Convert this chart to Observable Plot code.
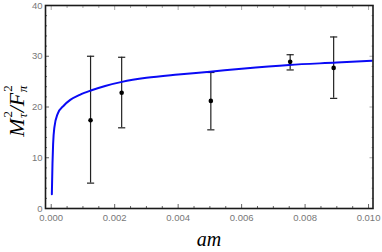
<!DOCTYPE html>
<html>
<head>
<meta charset="utf-8">
<script src="https://cdn.jsdelivr.net/npm/d3@7"></script>
<script src="https://cdn.jsdelivr.net/npm/@observablehq/plot@0.6"></script>
<style>
  html, body { margin: 0; padding: 0; background: #fff; }
</style>
</head>
<body>
<div id="chart"></div>
<script>
// Lattice data points (am, M^2/F^2) with error bars
const pointX  = [0.00124, 0.00222, 0.00503, 0.00753, 0.00890];
const pointY  = [17.4, 22.8, 21.2, 28.9, 27.7];
const pointLo = [5.0, 15.9, 15.5, 27.3, 21.7];
const pointHi = [30.0, 29.8, 26.8, 30.3, 33.8];

// Fit curve
const curveX = [0.00002, 0.00004, 0.00006, 0.0001, 0.0002, 0.0004, 0.0006, 0.0009, 0.00127, 0.0017, 0.00223, 0.003, 0.004, 0.005, 0.006, 0.0075, 0.009, 0.0101];
const curveY = [2.8, 8.8, 12.7, 16.0, 18.6, 20.3, 21.4, 22.4, 23.3, 24.15, 24.95, 25.75, 26.4, 26.95, 27.55, 28.3, 28.75, 29.1];

// Tick values
const xTicks = [0, 0.002, 0.004, 0.006, 0.008, 0.010];
const xTickLabels = ["0.000", "0.002", "0.004", "0.006", "0.008", "0.010"];
const yTicks = [0, 10, 20, 30, 40];
const yTickLabels = ["0", "10", "20", "30", "40"];
const xMinor = d3.range(0, 0.01001, 0.0005).filter((d, i) => i % 4 !== 0);
const yMinor = d3.range(0, 40.01, 2).filter((d, i) => i % 5 !== 0);

const points = pointX.map((x, i) => ({x, y: pointY[i], lo: pointLo[i], hi: pointHi[i]}));
const caps = points.flatMap(p => [{x: p.x, y: p.lo}, {x: p.x, y: p.hi}]);
const curve = curveX.map((x, i) => ({x, y: curveY[i]}));

const capSymbol = {
  draw(ctx, size) {
    const r = Math.sqrt(size / Math.PI);
    ctx.moveTo(-r, 0);
    ctx.lineTo(r, 0);
  }
};

const tickColor = "#666";
const labelColor = "#777";

const chart = Plot.plot({
  width: 382,
  height: 252,
  marginLeft: 45,
  marginRight: 9.5,
  marginTop: 5,
  marginBottom: 44,
  style: {fontFamily: "'Liberation Sans', Arial, sans-serif", fontSize: "9.5px", background: "#fff"},
  x: {domain: [-0.00018, 0.01014]},
  y: {domain: [0, 40]},
  marks: [
    // tick marks pointing inward on all four sides
    Plot.axisX(xTicks, {anchor: "bottom", tickSize: -4, text: null, stroke: tickColor, label: null}),
    Plot.axisX(xMinor, {anchor: "bottom", tickSize: -2, text: null, stroke: tickColor, label: null}),
    Plot.axisX(xTicks, {anchor: "top", tickSize: -4, text: null, stroke: "#aaa", label: null}),
    Plot.axisX(xMinor, {anchor: "top", tickSize: -2, text: null, stroke: "#aaa", label: null}),
    Plot.axisY(yTicks, {anchor: "left", tickSize: -4, text: null, stroke: tickColor, label: null}),
    Plot.axisY(yMinor, {anchor: "left", tickSize: -2, text: null, stroke: tickColor, label: null}),
    Plot.axisY(yTicks, {anchor: "right", tickSize: -4, text: null, stroke: "#aaa", label: null}),
    Plot.axisY(yMinor, {anchor: "right", tickSize: -2, text: null, stroke: "#aaa", label: null}),
    // tick labels
    Plot.axisX(xTicks, {anchor: "bottom", tickSize: 0, tickPadding: 6, fill: labelColor, label: null,
      tickFormat: (d) => xTickLabels[xTicks.indexOf(d)]}),
    Plot.axisY(yTicks, {anchor: "left", tickSize: 0, tickPadding: 3, fill: labelColor, label: null,
      tickFormat: (d) => yTickLabels[yTicks.indexOf(d)]}),
    // error bars
    Plot.ruleX(points, {x: "x", y1: "lo", y2: "hi", stroke: "#222", strokeWidth: 1.2}),
    Plot.dot(caps, {x: "x", y: "y", r: 3.6, symbol: capSymbol, stroke: "#222", strokeWidth: 1.2}),
    // fit curve
    Plot.line(curve, {x: "x", y: "y", stroke: "#0a0af5", strokeWidth: 2, curve: "monotone-x"}),
    // data points
    Plot.dot(points, {x: "x", y: "y", r: 2.3, fill: "#000", stroke: "none"}),
    Plot.frame({stroke: "#1a1a1a", strokeWidth: 1.6})
  ]
});

// axis titles with stacked super/subscripts
const svg = d3.select(chart);
const serif = "'Liberation Serif', 'Times New Roman', serif";
svg.append("text")
  .attr("x", 209).attr("y", 246)
  .attr("text-anchor", "middle")
  .attr("font-family", serif).attr("font-style", "italic").attr("font-size", 20)
  .attr("fill", "#000")
  .text("am");

const yl = svg.append("text")
  .attr("transform", "translate(23.5,111) rotate(-90)")
  .attr("text-anchor", "middle")
  .attr("font-family", serif).attr("font-style", "italic").attr("font-size", 22)
  .attr("fill", "#000");
yl.append("tspan").text("M");
yl.append("tspan").attr("font-size", 13).attr("font-style", "normal").attr("dx", 1).attr("dy", -12).text("2");
yl.append("tspan").attr("font-size", 13).attr("dx", -7).attr("dy", 15.5).text("τ");
yl.append("tspan").attr("dx", 1).attr("dy", -3.5).text("/F");
yl.append("tspan").attr("font-size", 13).attr("font-style", "normal").attr("dx", 1).attr("dy", -12).text("2");
yl.append("tspan").attr("font-size", 13).attr("dx", -7).attr("dy", 15.5).text("π");

document.getElementById("chart").appendChild(chart);
</script>
</body>
</html>
